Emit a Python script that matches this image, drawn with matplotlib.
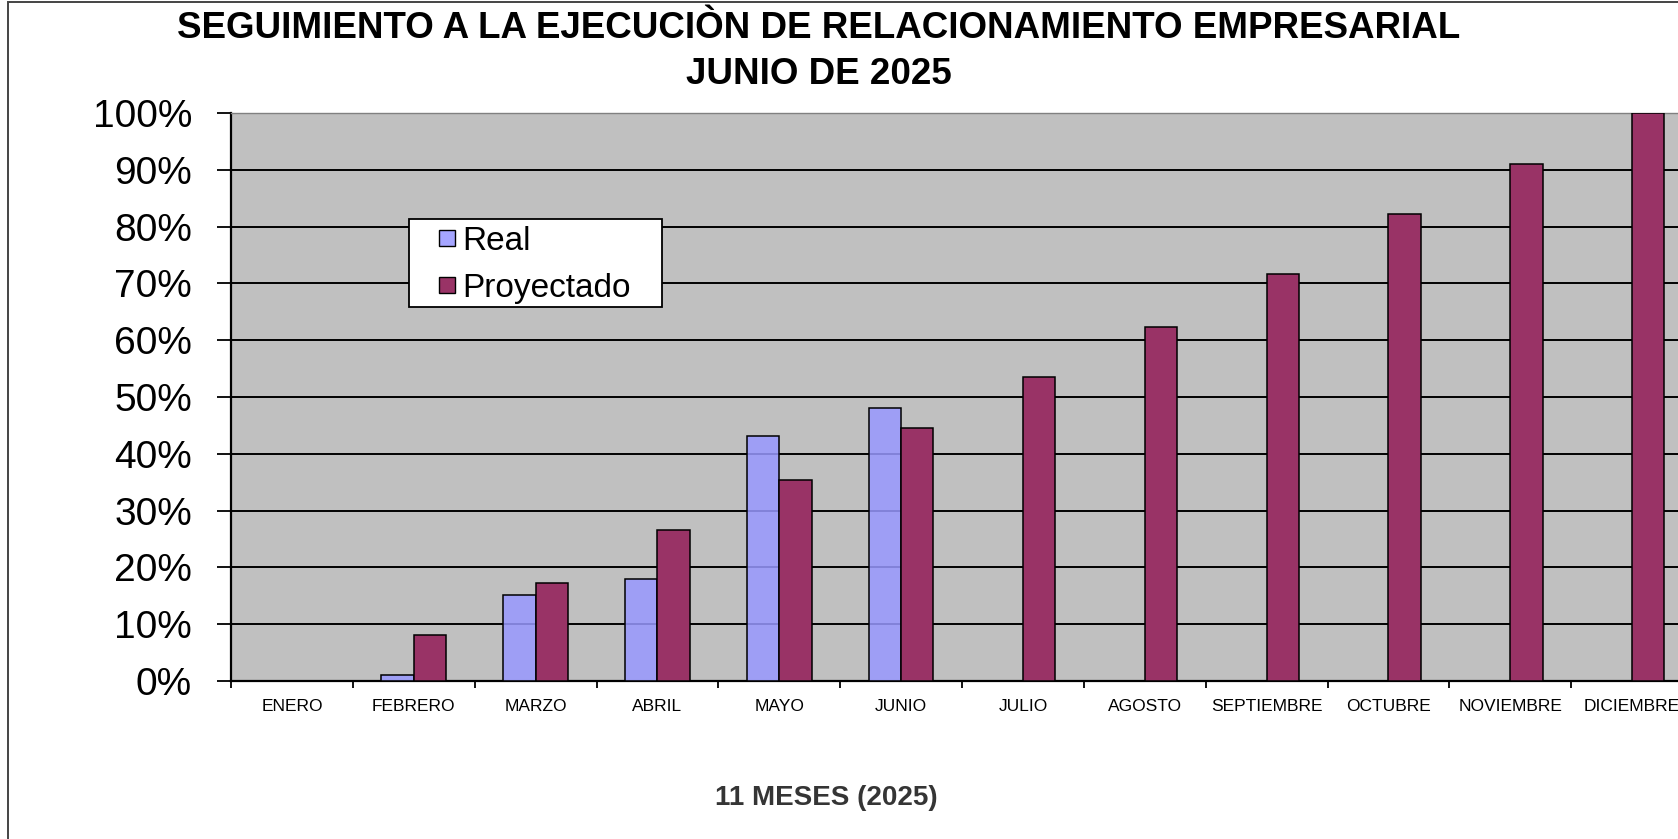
import matplotlib
matplotlib.use('Agg')
import matplotlib.pyplot as plt
import numpy as np
from matplotlib.patches import Rectangle
from matplotlib.lines import Line2D

plt.rcParams['font.family'] = ['Liberation Sans', 'DejaVu Sans']

meses = ['ENERO', 'FEBRERO', 'MARZO', 'ABRIL', 'MAYO', 'JUNIO', 'JULIO',
         'AGOSTO', 'SEPTIEMBRE', 'OCTUBRE', 'NOVIEMBRE', 'DICIEMBRE']
real = [0.0, 1.0, 15.1, 17.9, 43.1, 48.0, 0, 0, 0, 0, 0, 0]
proyectado = [0.0, 8.1, 17.3, 26.5, 35.3, 44.5, 53.6, 62.4, 71.6, 82.2, 91.1, 100.0]

ind = np.arange(len(meses))
width = 0.265
W, H = 1678, 839

fig = plt.figure(figsize=(16.78, 8.39), dpi=100)
fig.patch.set_facecolor('white')

# marco del grafico
fig.patches.append(Rectangle((8 / W, -0.05), 1.1, 1 - 2 / H + 0.05,
                             transform=fig.transFigure, fill=False,
                             edgecolor='#444444', linewidth=1.4))

ax = fig.add_axes([231 / W, 1 - 681 / H, 1462 / W, 568 / H])
ax.set_facecolor('#C0C0C0')

ax.set_ylim(0, 100)
ax.set_xlim(-0.5, 11.5)
ax.set_yticks(np.arange(0, 101, 10))
ax.set_yticklabels([f'{v}%' for v in range(0, 101, 10)])
ax.grid(True, axis='y', color='black', linewidth=1.4)
ax.set_axisbelow(True)

ax.bar(ind - width / 2, real, width, facecolor=(0.6, 0.6, 1.0, 0.85),
       edgecolor='black', linewidth=1.1, zorder=3)
ax.bar(ind + width / 2, proyectado, width, color='#993366',
       edgecolor='black', linewidth=1.1, zorder=3)

ax.set_xticks(ind)
ax.set_xticklabels(meses, fontsize=12.5)
ax.set_xticks(np.arange(-0.5, 12, 1), minor=True)
ax.tick_params(axis='x', which='major', length=0, pad=13)
ax.tick_params(axis='x', which='minor', length=5, width=1.3, direction='out')
ax.tick_params(axis='y', length=10, width=1.3, pad=18, labelsize=28)

for s in ['left', 'bottom']:
    ax.spines[s].set_linewidth(1.6)
    ax.spines[s].set_color('black')
ax.spines['top'].set_color('#808080')
ax.spines['top'].set_linewidth(1.0)
ax.spines['right'].set_color('black')

fig.text(819 / W, 1 - 38.5 / H,
         'SEGUIMIENTO A LA EJECUCIÒN DE RELACIONAMIENTO EMPRESARIAL',
         ha='center', va='baseline', fontsize=26.5, fontweight='bold')
fig.text(819 / W, 1 - 83.5 / H, 'JUNIO DE 2025',
         ha='center', va='baseline', fontsize=26.5, fontweight='bold')
fig.text(826 / W, 1 - 798 / H, '11 MESES (2025)',
         ha='center', va='center', fontsize=20, fontweight='bold',
         color='#353535')

# leyenda con marco propio
fig.patches.append(Rectangle((409 / W, 1 - 307 / H), 253 / W, 88 / H,
                             transform=fig.transFigure, facecolor='white',
                             edgecolor='black', linewidth=1.3, zorder=4))
handles = [Line2D([], [], linestyle='none', marker='s', markersize=12,
                  markerfacecolor='#A5A5FF', markeredgecolor='black',
                  markeredgewidth=1.0),
           Line2D([], [], linestyle='none', marker='s', markersize=12,
                  markerfacecolor='#993366', markeredgecolor='black',
                  markeredgewidth=1.0)]
leg = fig.legend(handles, ['Real', 'Proyectado'], loc='upper left',
                 bbox_to_anchor=(432 / W, 1 - 226 / H), fontsize=24,
                 frameon=False, handlelength=0.91, handletextpad=0.0,
                 borderpad=0, labelspacing=0.48, borderaxespad=0)
leg.set_zorder(5)

fig.savefig('out.png', dpi=100)
